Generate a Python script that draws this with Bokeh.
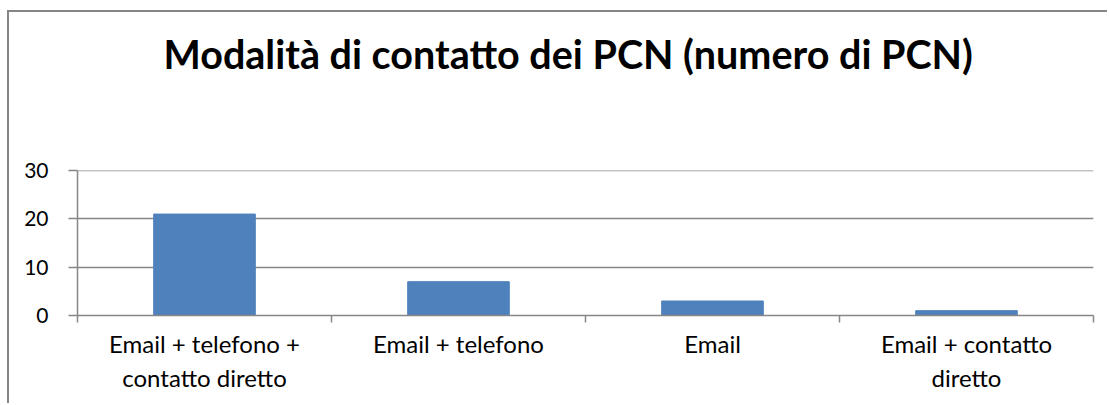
from bokeh.plotting import figure
from bokeh.models import Title, Range1d, FixedTicker, LinearAxis
from bokeh.embed import file_html
from bokeh.resources import INLINE

categories = ["Email + telefono +\ncontatto diretto", "Email + telefono", "Email", "Email + contatto\ndiretto"]
values = [21, 7, 3, 1]
y_ticks = [0, 10, 20, 30]

GRAY = "#868686"

p = figure(x_range=categories, width=1100, height=393, output_backend="svg",
           toolbar_location=None, min_border_left=68, min_border_right=16,
           min_border_bottom=90, min_border_top=158)
p.y_range = Range1d(0, 30.02)

p.vbar(x=categories, top=values, width=0.4, color="#4F81BD", line_color="#4F81BD")

p.title.text = "Modalità di contatto dei PCN (numero di PCN)"
p.title.text_font = "Lato"
p.title.text_font_style = "bold"
p.title.text_font_size = "39.5px"
p.title.align = "left"
p.title.offset = 86
p.title.text_color = "black"
p.add_layout(Title(text=" ", text_font_size="69px"), "above")

p.outline_line_color = None
p.xgrid.grid_line_color = None
p.ygrid.grid_line_color = GRAY
p.ygrid.grid_line_width = 1.5
p.yaxis.ticker = FixedTicker(ticks=y_ticks)

# boundary ticks between categories (synthetic coordinates of the factor range)
bound_ticks = list(range(len(categories) + 1))
bound_axis = LinearAxis(ticker=FixedTicker(ticks=bound_ticks),
                        major_label_overrides={t: "" for t in bound_ticks},
                        major_label_standoff=0,
                        axis_line_color=GRAY, axis_line_width=1.5,
                        major_tick_line_color=GRAY, major_tick_line_width=1.5,
                        major_tick_in=0, major_tick_out=7, minor_tick_line_color=None)
cat_axis = p.xaxis[0]
p.below = [bound_axis, cat_axis]

cat_axis.axis_line_color = None
cat_axis.major_tick_line_color = None
cat_axis.minor_tick_line_color = None
cat_axis.major_label_text_font = "Lato"
cat_axis.major_label_text_color = "black"
cat_axis.major_label_text_font_size = "24px"
cat_axis.major_label_standoff = 0

yax = p.yaxis[0]
yax.axis_line_color = GRAY
yax.axis_line_width = 1.5
yax.major_tick_line_color = GRAY
yax.major_tick_line_width = 1.5
yax.major_tick_in = 0
yax.major_tick_out = 9
yax.minor_tick_line_color = None
yax.major_label_text_font = "Lato"
yax.major_label_text_color = "black"
yax.major_label_text_font_size = "21px"
yax.major_label_standoff = 20
p.x_range.range_padding = 0

p.styles = {"border-top": "2px solid #868686", "border-left": "2px solid #868686",
            "margin-top": "10px", "margin-left": "7px"}

open("out.html", "w").write(file_html(p, INLINE))
